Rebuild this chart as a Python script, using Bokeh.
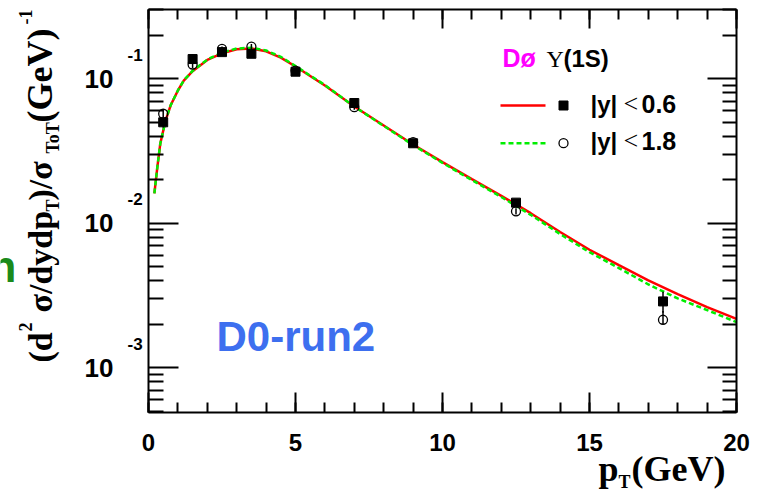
import math
from bokeh.plotting import figure
from bokeh.models import (LinearAxis, LogAxis, FixedTicker, SingleIntervalTicker,
                          CustomJSTickFormatter, Label, Range1d, ColumnDataSource)
from bokeh.embed import file_html
from bokeh.resources import INLINE

# ---------------- data ----------------
pt = [0.5, 1.5, 2.5, 3.5, 5.0, 7.0, 9.0, 12.5, 17.5]
y06 = [0.050, 0.137, 0.153, 0.149, 0.112, 0.068, 0.0358, 0.0139, 0.00288]
y06_lo = [0.046, 0.127, 0.146, 0.142, 0.108, 0.065, 0.0343, 0.0131, 0.00240]
y06_hi = [0.054, 0.148, 0.160, 0.156, 0.116, 0.071, 0.0373, 0.0147, 0.00336]
y18 = [0.0573, 0.1256, 0.161, 0.167, 0.114, 0.0636, 0.0364, 0.0121, 0.00215]
y18_lo = [0.054, 0.119, 0.155, 0.160, 0.110, 0.061, 0.0350, 0.0115, 0.00200]
y18_hi = [0.061, 0.132, 0.167, 0.174, 0.118, 0.066, 0.0378, 0.0127, 0.00247]

curve_pt = [0.2, 0.3, 0.4, 0.58, 0.75, 1.0, 1.2, 1.5, 2.0, 2.5, 3.0, 3.5, 4.0, 4.5, 5,
            6, 7, 8, 9, 10, 11, 12, 13, 14, 15, 16, 17, 18, 19, 20]
fit_y06 = [0.0161, 0.0244, 0.0355, 0.0514, 0.0653, 0.083, 0.0973, 0.113, 0.135, 0.150,
           0.160, 0.162, 0.155, 0.140, 0.1216, 0.0899, 0.0643, 0.0475, 0.0351, 0.0265,
           0.0202, 0.0155, 0.01175, 0.0087, 0.00656, 0.00513, 0.00403, 0.00324, 0.00263, 0.00218]
fit_y18 = [0.0161, 0.0244, 0.0355, 0.0514, 0.0653, 0.083, 0.0975, 0.1135, 0.136, 0.152,
           0.162, 0.164, 0.157, 0.142, 0.1225, 0.0905, 0.0643, 0.0472, 0.0348, 0.0262,
           0.0199, 0.0152, 0.01145, 0.00843, 0.00631, 0.00490, 0.00378, 0.00302, 0.00251, 0.00207]

legend_labels = ["|y|", "0.6", "1.8"]
y_major_ticks = [1e-3, 1e-2, 1e-1]
y_exponents = ["-3", "-2", "-1"]

# ---------------- layout (pixels of the canvas, from its top-left) ----------------
W, H = 759, 491
FL, FR, FT, FB = 148, 736, 9, 412          # plot box in pixels
X0, X1 = 0.0, 20.0                          # data limits of the box
LY0, LY1 = -3.3093, -0.5204                 # log10 data limits of the box
Y0, Y1 = 10 ** LY0, 10 ** LY1
K = 0.37                                    # baseline correction (fraction of font size)

def px2x(X):
    return X0 + (X - FL) / (FR - FL) * (X1 - X0)

def px2y(Y):
    return 10 ** (LY0 + (FB - Y) / (FB - FT) * (LY1 - LY0))

p = figure(width=W, height=H, title=None,
           x_range=Range1d(px2x(0), px2x(W)), y_range=Range1d(px2y(H), px2y(0)),
           y_axis_type="log", output_backend="svg", toolbar_location=None,
           min_border_left=0, min_border_right=0, min_border_top=0, min_border_bottom=0)
p.xgrid.visible = False
p.ygrid.visible = False
p.outline_line_color = None
p.background_fill_color = "white"
p.border_fill_color = "white"

x_ticker = SingleIntervalTicker(interval=5, num_minor_ticks=5)
y_minor = [m * 10.0 ** e for e in (-4, -3, -2, -1) for m in range(2, 10)
           if Y0 <= m * 10.0 ** e <= Y1]
y_ticker = FixedTicker(ticks=y_major_ticks, minor_ticks=y_minor)
empty_fmt = CustomJSTickFormatter(code="return ''")

def style_axis(ax, major, minor):
    ax.major_tick_in = major
    ax.major_tick_out = 0
    ax.minor_tick_in = minor
    ax.minor_tick_out = 0
    ax.major_tick_line_width = 2
    ax.minor_tick_line_width = 2
    ax.axis_line_width = 2
    ax.major_tick_line_color = "black"
    ax.minor_tick_line_color = "black"
    ax.axis_line_color = "black"

xb = p.xaxis[0]
xb.ticker = x_ticker
xb.fixed_location = Y0
xb.bounds = (X0, X1)
style_axis(xb, 20, 10)
xb.major_label_text_font = "Liberation Sans"
xb.major_label_text_font_style = "bold"
xb.major_label_text_font_size = "24px"
xb.major_label_text_color = "black"
xb.major_label_standoff = 21

yl = p.yaxis[0]
yl.ticker = y_ticker
yl.fixed_location = X0
yl.bounds = (Y0, Y1)
style_axis(yl, 30, 15)
yl.formatter = CustomJSTickFormatter(code="return '10'")
yl.major_label_text_font = "Liberation Sans"
yl.major_label_text_font_style = "bold"
yl.major_label_text_font_size = "26px"
yl.major_label_text_color = "black"
yl.major_label_standoff = 35

xt = LinearAxis(ticker=x_ticker, formatter=empty_fmt, fixed_location=Y1, bounds=(X0, X1),
                major_label_standoff=0, major_label_text_font_size="0px")
style_axis(xt, 19, 10)
p.add_layout(xt, "above")

yr = LogAxis(ticker=y_ticker, formatter=empty_fmt, fixed_location=X1, bounds=(Y0, Y1),
             major_label_standoff=0, major_label_text_font_size="0px")
style_axis(yr, 29, 14)
p.add_layout(yr, "right")

# ---------------- curves & points ----------------
cs = ColumnDataSource(dict(x=curve_pt, a=fit_y06, b=fit_y18))
p.line("x", "a", source=cs, line_color="#ff0000", line_width=2.5)
p.line("x", "b", source=cs, line_color="#00ee00", line_width=2.5, line_dash="5 3")

ds = ColumnDataSource(dict(x=pt, y06=y06, lo6=y06_lo, hi6=y06_hi,
                           y18=y18, lo18=y18_lo, hi18=y18_hi))
p.segment("x", "lo6", "x", "hi6", source=ds, line_color="black", line_width=1.5)
p.segment("x", "lo18", "x", "hi18", source=ds, line_color="black", line_width=1.5)
p.scatter("x", "y06", source=ds, marker="square", size=9, fill_color="black", line_color="black")
p.scatter("x", "y18", source=ds, marker="circle", size=9, fill_color=None,
          line_color="black", line_width=1.3)

# ---------------- texts ----------------
def piece(X, Y, text, size, angle=0, font="Liberation Serif", style="bold", color="black"):
    s = float(size.replace("px", ""))
    if angle == 0:
        sx, sy = X, H - Y + K * s
    else:
        sx, sy = X - K * s, H - Y
    p.add_layout(Label(x=sx, y=sy, x_units="screen", y_units="screen", text=text,
                       angle=angle, angle_units="deg", text_font=font,
                       text_font_style=style, text_font_size=size, text_color=color,
                       text_align="left", text_baseline="alphabetic"))

# exponents of the y tick labels
for t, e in zip(y_major_ticks, y_exponents):
    p.add_layout(Label(x=127, x_units="screen", y=t, y_units="data", y_offset=18 + K * 17,
                       text=e, text_font="Liberation Sans", text_font_style="bold",
                       text_font_size="17px", text_color="black",
                       text_align="left", text_baseline="alphabetic"))

# y title: (d^2 sigma/dydp_T)/sigma_ToT (GeV)^-1, rotated
piece(53, 362, "(d", "34px", 90)
piece(32, 331, "2", "18px", 90)
piece(53, 312, "σ/dydp", "34px", 90)
piece(59, 211, "T", "18px", 90)
piece(53, 200, ")/σ", "34px", 90)
piece(59, 153, "ToT", "18px", 90)
piece(53, 122, "(GeV)", "36px", 90)
piece(32, 24, "-1", "18px", 90)

# x title: p_T(GeV)
piece(598, 482, "p", "36px")
piece(618, 488, "T", "18px")
piece(631, 482, "(GeV)", "36px")

# partial text at the left edge
piece(-11, 282, "n", "44px", font="Liberation Sans", color="#1a8a1a")

# label in the plot
piece(216, 352, "D0-run2", "42px", font="Liberation Sans", color="#3d6fef")

# ---------------- legend ----------------
piece(502, 67, "Dø", "25px", font="Liberation Sans", color="#ff00ff")
piece(546, 67, "Υ", "24px", style="normal")
piece(563, 67, "(1S)", "24px", font="Liberation Sans")

rows = [(105, 113, legend_labels[1]), (142.7, 150, legend_labels[2])]
for Ym, Yt, lab in rows:
    piece(590, Yt, legend_labels[0], "24px", font="Liberation Sans")
    piece(623, Yt, "<", "26px", style="normal")
    piece(641, Yt, lab, "25px", font="Liberation Sans")

lx = [px2x(500), px2x(545)]
p.line(lx, [px2y(105)] * 2, line_color="#ff0000", line_width=2.5)
p.line(lx, [px2y(142.7)] * 2, line_color="#00ee00", line_width=2.5, line_dash="5 3")
p.scatter([px2x(563)], [px2y(105)], marker="square", size=9, fill_color="black", line_color="black")
p.scatter([px2x(563)], [px2y(142.7)], marker="circle", size=9, fill_color=None,
          line_color="black", line_width=1.3)

open("out.html", "w").write(file_html(p, INLINE))
